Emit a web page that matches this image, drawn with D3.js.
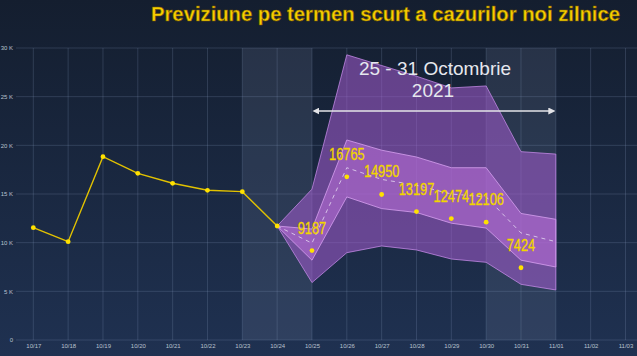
<!DOCTYPE html>
<html><head><meta charset="utf-8">
<script src="https://cdn.jsdelivr.net/npm/d3@7"></script>
<style>html,body{margin:0;padding:0;background:#18243a;}svg{display:block;}</style>
</head><body>
<script>
const dates = ["10/17","10/18","10/19","10/20","10/21","10/22","10/23","10/24","10/25","10/26","10/27","10/28","10/29","10/30","10/31","11/01","11/02","11/03"];
const actualDates = ["10/17","10/18","10/19","10/20","10/21","10/22","10/23","10/24"];
const actualValues = [11540,10100,18830,17120,16100,15380,15240,11710];
const forecastDates = ["10/25","10/26","10/27","10/28","10/29","10/30","10/31"];
const forecastValues = [9187,16765,14950,13197,12474,12106,7424];
const bandDates = ["10/24","10/25","10/26","10/27","10/28","10/29","10/30","10/31","11/01"];
const outerUpper = [11710,15500,29300,28200,27100,25900,26100,19350,19100];
const outerLower = [11710,5900,8970,9660,9250,8320,7980,5720,5140];
const innerUpper = [11710,11400,20550,19500,18800,17700,17700,13000,12400];
const innerLower = [11710,8200,14700,13500,13100,12000,11500,8200,7500];
const midValues  = [11710,9950,17700,16500,15900,15000,14700,11000,10100];
const yTicks = [0,5000,10000,15000,20000,25000,30000];
const yTickLabels = ["0","5 K","10 K","15 K","20 K","25 K","30 K"];
const highlightRanges = [["10/23","10/25"],["10/30","11/01"]];
const titleText = "Previziune pe termen scurt a cazurilor noi zilnice";
const periodLine1 = "25 - 31 Octombrie";
const periodLine2 = "2021";
const arrowRange = ["10/25","11/01"];

const W = 637, H = 356;
const svg = d3.select("body").append("svg").attr("width", W).attr("height", H);
const defs = svg.append("defs");
const grad = defs.append("linearGradient").attr("id","bg").attr("x1",0).attr("y1",0).attr("x2",0).attr("y2",1);
grad.append("stop").attr("offset","0%").attr("stop-color","#141e2f");
grad.append("stop").attr("offset","100%").attr("stop-color","#1f3151");
svg.append("rect").attr("width",W).attr("height",H).attr("fill","url(#bg)");

const x = d3.scalePoint().domain(dates).range([33.3, 625.5]);
const y = d3.scaleLinear().domain([0,30000]).range([340,48]);

// highlight bands
svg.append("g").selectAll("rect").data(highlightRanges).join("rect")
  .attr("x", d => x(d[0])).attr("width", d => x(d[1]) - x(d[0]))
  .attr("y", y(30000)).attr("height", y(0) - y(30000))
  .attr("fill", "rgba(160,180,210,0.13)");

// grid
const grid = svg.append("g");
grid.selectAll("line.h").data(yTicks).join("line").attr("class","h")
  .attr("x1",16).attr("x2",W).attr("y1",d=>y(d)).attr("y2",d=>y(d))
  .attr("stroke","rgba(140,160,195,0.22)").attr("stroke-width",1);
grid.selectAll("line.v").data(dates).join("line").attr("class","v")
  .attr("x1",d=>x(d)).attr("x2",d=>x(d)).attr("y1",y(30000)).attr("y2",y(0))
  .attr("stroke","rgba(140,160,195,0.22)").attr("stroke-width",1);

// axes labels
const yAxis = d3.axisLeft(y).tickValues(yTicks).tickFormat((d,i)=>yTickLabels[i]).tickSize(0).tickPadding(0);
const ya = svg.append("g").attr("transform","translate(13,0)").call(yAxis);
ya.select(".domain").remove();
ya.selectAll("text").attr("fill","#b9c1cf").attr("font-size","6px").attr("font-family","Liberation Sans, sans-serif");

const xAxis = d3.axisBottom(x).tickSize(0).tickPadding(0);
const xa = svg.append("g").attr("transform","translate(0,344)").call(xAxis);
xa.select(".domain").remove();
xa.selectAll("text").attr("fill","#b9c1cf").attr("font-size","6px").attr("font-family","Liberation Sans, sans-serif");

// bands
const bandIdx = d3.range(bandDates.length);
const area = (up, lo) => d3.area().x(i=>x(bandDates[i])).y0(i=>y(lo[i])).y1(i=>y(up[i]));
svg.append("path").datum(bandIdx).attr("d", area(outerUpper, outerLower))
  .attr("fill","rgba(165,92,210,0.55)").attr("stroke","rgba(200,140,235,0.75)").attr("stroke-width",1);
svg.append("path").datum(bandIdx).attr("d", area(innerUpper, innerLower))
  .attr("fill","rgba(185,110,215,0.58)").attr("stroke","rgba(215,160,240,0.8)").attr("stroke-width",1);

// dashed mid line
svg.append("path").datum(bandIdx)
  .attr("d", d3.line().x(i=>x(bandDates[i])).y(i=>y(midValues[i])))
  .attr("fill","none").attr("stroke","rgba(235,225,245,0.75)").attr("stroke-width",1).attr("stroke-dasharray","4,4");

// actual line
const aIdx = d3.range(actualDates.length);
svg.append("path").datum(aIdx)
  .attr("d", d3.line().x(i=>x(actualDates[i])).y(i=>y(actualValues[i])))
  .attr("fill","none").attr("stroke","#e2c200").attr("stroke-width",1.4);
svg.append("g").selectAll("circle").data(aIdx).join("circle")
  .attr("cx",i=>x(actualDates[i])).attr("cy",i=>y(actualValues[i])).attr("r",2.4).attr("fill","#ffe100");

// forecast points
const fIdx = d3.range(forecastDates.length);
svg.append("g").selectAll("circle").data(fIdx).join("circle")
  .attr("cx",i=>x(forecastDates[i])).attr("cy",i=>y(forecastValues[i])).attr("r",2.4).attr("fill","#ffe100");
svg.append("g").selectAll("text").data(fIdx).join("text")
  .attr("transform",i=>`translate(${x(forecastDates[i])},${y(forecastValues[i]) - 17}) scale(1,1.22)`)
  .attr("text-anchor","middle").attr("font-size","12.8px")
  .attr("font-family","Liberation Sans, sans-serif")
  .attr("fill","#f7dc00").attr("stroke","#e8c800").attr("stroke-width",0.3)
  .text(i=>forecastValues[i]);

// period annotation
svg.append("text").attr("x",435).attr("y",74.5).attr("text-anchor","middle")
  .attr("font-size","19px").attr("font-family","Liberation Sans, sans-serif")
  .attr("fill","#e6e7ee").text(periodLine1);
svg.append("text").attr("x",433).attr("y",97).attr("text-anchor","middle")
  .attr("font-size","19px").attr("font-family","Liberation Sans, sans-serif")
  .attr("fill","#e6e7ee").text(periodLine2);

// arrow
const mk = (id, path) => defs.append("marker").attr("id",id).attr("viewBox","0 0 10 10").attr("refX",5).attr("refY",5)
  .attr("markerWidth",7).attr("markerHeight",7).attr("orient","auto").attr("markerUnits","userSpaceOnUse")
  .append("path").attr("d",path).attr("fill","#e4e4e8");
mk("arrEnd","M0,0 L10,5 L0,10 z");
mk("arrStart","M10,0 L0,5 L10,10 z");
svg.append("line").attr("x1",x(arrowRange[0])+4).attr("x2",x(arrowRange[1])-4).attr("y1",111).attr("y2",111)
  .attr("stroke","#e4e4e8").attr("stroke-width",1.6)
  .attr("marker-start","url(#arrStart)").attr("marker-end","url(#arrEnd)");

// title
svg.append("text").attr("x",151).attr("y",21).attr("textLength",469).attr("lengthAdjust","spacingAndGlyphs")
  .attr("font-size","21px").attr("font-weight","bold")
  .attr("font-family","Liberation Sans, sans-serif")
  .attr("fill","#f7cf00").attr("stroke","#7a5a00").attr("stroke-width",0.6)
  .text(titleText);
</script>
</body></html>
